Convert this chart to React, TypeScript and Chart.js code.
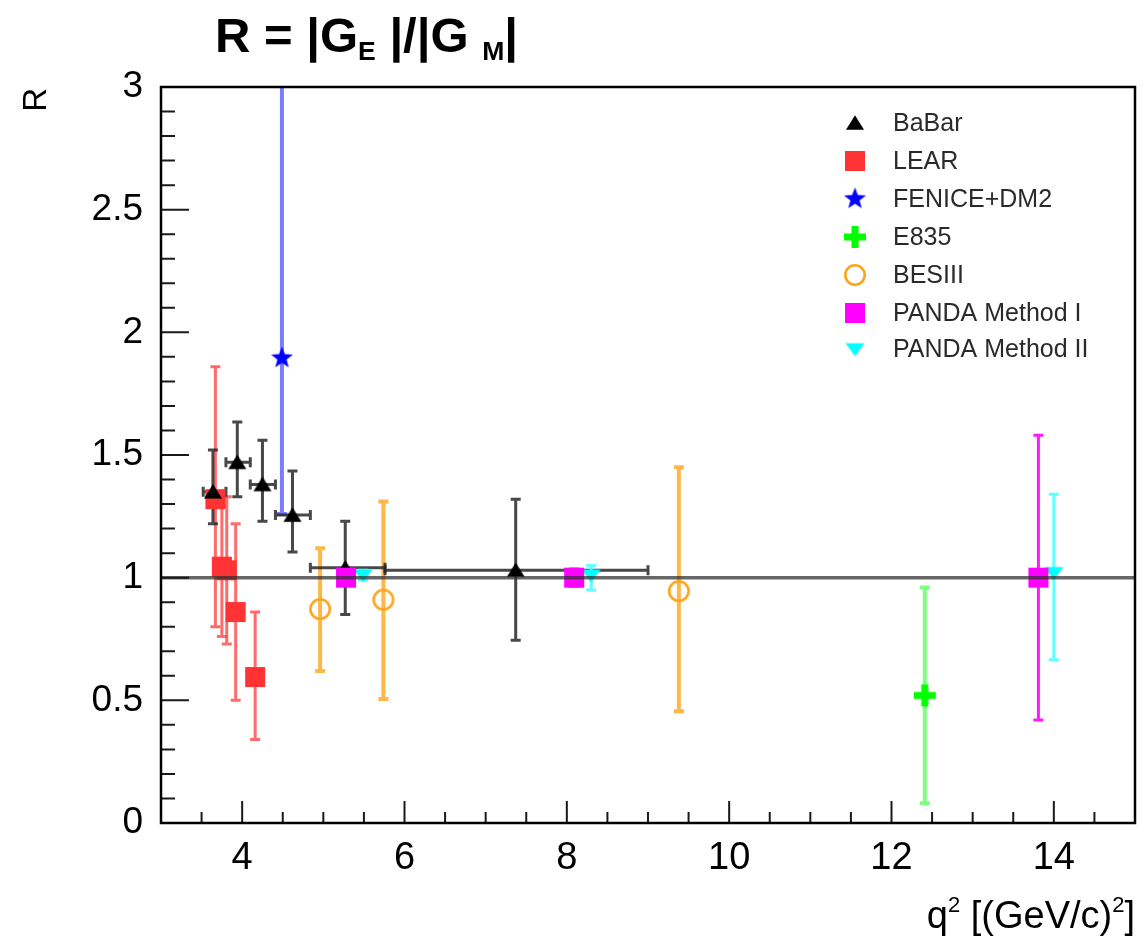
import React, { useEffect, useRef } from 'react';
import { Chart, registerables } from 'chart.js';

Chart.register(...registerables);

// ---------------- data ----------------
const babarQ2 = [3.64, 3.94, 4.25, 4.62, 5.27, 7.37];
const babarR = [1.35, 1.47, 1.38, 1.255, 1.04, 1.03];
const babarRLow = [1.22, 1.33, 1.23, 1.105, 0.85, 0.745];
const babarRHigh = [1.52, 1.635, 1.56, 1.435, 1.23, 1.32];
const babarQ2Low = [3.52, 3.8, 4.1, 4.41, 4.84, 5.76];
const babarQ2High = [3.8, 4.1, 4.41, 4.84, 5.76, 9.0];

const learQ2 = [3.67, 3.75, 3.81, 3.92, 4.16];
const learR = [1.32, 1.045, 1.03, 0.86, 0.595];
const learRLow = [0.8, 0.76, 0.73, 0.5, 0.34];
const learRHigh = [1.86, 1.33, 1.33, 1.22, 0.86];

const feniceQ2 = [4.49];
const feniceR = [1.895];
const feniceRLow = [1.26];
const feniceRHigh = [3.6];

const e835Q2 = [12.41];
const e835R = [0.52];
const e835RLow = [0.08];
const e835RHigh = [0.96];

const besQ2 = [4.96, 5.74, 9.38];
const besR = [0.872, 0.91, 0.945];
const besRLow = [0.62, 0.505, 0.455];
const besRHigh = [1.12, 1.31, 1.45];

const panda1Q2 = [5.28, 8.09, 13.81];
const panda1R = [1.0, 1.0, 1.0];
const panda1RLow = [0.99, 0.965, 0.42];
const panda1RHigh = [1.01, 1.035, 1.58];

const panda2Q2 = [5.49, 8.3, 14.0];
const panda2R = [1.01, 1.01, 1.02];
const panda2RLow = [0.99, 0.95, 0.665];
const panda2RHigh = [1.03, 1.05, 1.34];

const legendLabels = ['BaBar', 'LEAR', 'FENICE+DM2', 'E835', 'BESIII', 'PANDA Method I', 'PANDA Method II'];
const xTickLabels = [4, 6, 8, 10, 12, 14];
const yTickLabels = [0, 0.5, 1, 1.5, 2, 2.5, 3];

// ---------------- markers ----------------
function makeMarker(kind: string, color: string, size: number): HTMLCanvasElement {
  const pad = 3;
  const S = Math.ceil(size + pad * 2);
  const c = document.createElement('canvas');
  c.width = S;
  c.height = S;
  const ctx = c.getContext('2d') as CanvasRenderingContext2D;
  const cx = S / 2;
  const cy = S / 2;
  const h = size / 2;
  ctx.fillStyle = color;
  ctx.strokeStyle = color;
  ctx.beginPath();
  if (kind === 'triUp') {
    ctx.moveTo(cx, cy - h * 0.85);
    ctx.lineTo(cx + h, cy + h * 0.75);
    ctx.lineTo(cx - h, cy + h * 0.75);
    ctx.closePath();
    ctx.fill();
  } else if (kind === 'triDown') {
    ctx.moveTo(cx, cy + h * 0.75);
    ctx.lineTo(cx + h, cy - h * 0.6);
    ctx.lineTo(cx - h, cy - h * 0.6);
    ctx.closePath();
    ctx.fill();
  } else if (kind === 'square') {
    ctx.rect(cx - h, cy - h, size, size);
    ctx.fill();
  } else if (kind === 'star') {
    for (let i = 0; i < 10; i++) {
      const r = i % 2 === 0 ? h : h * 0.42;
      const a = -Math.PI / 2 + (i * Math.PI) / 5;
      const px = cx + r * Math.cos(a);
      const py = cy + r * Math.sin(a);
      if (i === 0) ctx.moveTo(px, py);
      else ctx.lineTo(px, py);
    }
    ctx.closePath();
    ctx.fill();
  } else if (kind === 'plus') {
    const t = size * 0.32;
    ctx.rect(cx - t / 2, cy - h, t, size);
    ctx.rect(cx - h, cy - t / 2, size, t);
    ctx.fill();
  } else if (kind === 'circle') {
    ctx.lineWidth = 2.6;
    ctx.arc(cx, cy, h - 1.3, 0, Math.PI * 2);
    ctx.stroke();
  }
  return c;
}

type Series = {
  label: string;
  q2: number[];
  r: number[];
  rLow: number[];
  rHigh: number[];
  q2Low?: number[];
  q2High?: number[];
  barColor: string;
  barWidth: number;
  order: number;
  marker: { kind: string; color: string; size: number };
};

const series: Series[] = [
  { label: legendLabels[0], q2: babarQ2, r: babarR, rLow: babarRLow, rHigh: babarRHigh, q2Low: babarQ2Low, q2High: babarQ2High, barColor: 'rgba(40,40,40,0.85)', barWidth: 3, order: 2, marker: { kind: 'triUp', color: '#000000', size: 18 } },
  { label: legendLabels[1], q2: learQ2, r: learR, rLow: learRLow, rHigh: learRHigh, barColor: 'rgba(255,70,70,0.8)', barWidth: 3, order: 6, marker: { kind: 'square', color: '#ff3333', size: 20 } },
  { label: legendLabels[2], q2: feniceQ2, r: feniceR, rLow: feniceRLow, rHigh: feniceRHigh, barColor: 'rgba(110,110,255,0.9)', barWidth: 4, order: 5, marker: { kind: 'star', color: '#0000ff', size: 23 } },
  { label: legendLabels[3], q2: e835Q2, r: e835R, rLow: e835RLow, rHigh: e835RHigh, barColor: 'rgba(120,255,120,0.95)', barWidth: 4, order: 4, marker: { kind: 'plus', color: '#00ff00', size: 22 } },
  { label: legendLabels[4], q2: besQ2, r: besR, rLow: besRLow, rHigh: besRHigh, barColor: 'rgba(255,170,40,0.85)', barWidth: 4, order: 3, marker: { kind: 'circle', color: '#ffa31a', size: 22 } },
  { label: legendLabels[5], q2: panda1Q2, r: panda1R, rLow: panda1RLow, rHigh: panda1RHigh, barColor: 'rgba(255,0,255,0.9)', barWidth: 3, order: 0, marker: { kind: 'square', color: '#ff00ff', size: 20 } },
  { label: legendLabels[6], q2: panda2Q2, r: panda2R, rLow: panda2RLow, rHigh: panda2RHigh, barColor: 'rgba(80,255,255,0.9)', barWidth: 3, order: 1, marker: { kind: 'triDown', color: '#00ffff', size: 19 } },
];

const FONT = '"Liberation Sans", Arial, Helvetica, sans-serif';

export default function App() {
  const ref = useRef<HTMLCanvasElement | null>(null);

  useEffect(() => {
    if (!ref.current) return;
    const markers = series.map((s) => makeMarker(s.marker.kind, s.marker.color, s.marker.size));

    const errorPlugin = {
      id: 'errorBars',
      beforeDatasetsDraw(chart: any) {
        const { ctx, chartArea, scales } = chart;
        const xs = scales.x;
        const ys = scales.y;
        ctx.save();
        ctx.beginPath();
        ctx.rect(chartArea.left, chartArea.top, chartArea.right - chartArea.left, chartArea.bottom - chartArea.top);
        ctx.clip();
        const cap = 5;
        const sorted = [...series].sort((a, b) => b.order - a.order);
        for (const s of sorted) {
          ctx.strokeStyle = s.barColor;
          ctx.lineWidth = s.barWidth;
          for (let i = 0; i < s.q2.length; i++) {
            const px = xs.getPixelForValue(s.q2[i]);
            const py = ys.getPixelForValue(s.r[i]);
            const yl = ys.getPixelForValue(s.rLow[i]);
            const yh = ys.getPixelForValue(s.rHigh[i]);
            ctx.beginPath();
            ctx.moveTo(px, yl);
            ctx.lineTo(px, yh);
            ctx.moveTo(px - cap, yl);
            ctx.lineTo(px + cap, yl);
            ctx.moveTo(px - cap, yh);
            ctx.lineTo(px + cap, yh);
            if (s.q2Low && s.q2High) {
              const xl = xs.getPixelForValue(s.q2Low[i]);
              const xh = xs.getPixelForValue(s.q2High[i]);
              ctx.moveTo(xl, py);
              ctx.lineTo(xh, py);
              ctx.moveTo(xl, py - cap);
              ctx.lineTo(xl, py + cap);
              ctx.moveTo(xh, py - cap);
              ctx.lineTo(xh, py + cap);
            }
            ctx.stroke();
          }
        }
        ctx.restore();
      },
      afterDatasetsDraw(chart: any) {
        const { ctx, chartArea, scales } = chart;
        const ys = scales.y;
        const xs = scales.x;
        const { left, right, top, bottom } = chartArea;
        ctx.save();
        const y1 = ys.getPixelForValue(1);
        ctx.strokeStyle = 'rgba(45,45,45,0.72)';
        ctx.lineWidth = 3.5;
        ctx.beginPath();
        ctx.moveTo(left, y1);
        ctx.lineTo(right, y1);
        ctx.stroke();

        ctx.strokeStyle = '#1a1a1a';
        ctx.lineWidth = 2;
        ctx.beginPath();
        for (let k = 6; k <= 30; k++) {
          const v = k / 2;
          const px = xs.getPixelForValue(v);
          const len = v % 2 === 0 ? 22 : 11;
          ctx.moveTo(px, bottom);
          ctx.lineTo(px, bottom - len);
        }
        for (let k = 0; k <= 30; k++) {
          const v = k / 10;
          const py = ys.getPixelForValue(v);
          const len = k % 5 === 0 ? 28 : 14;
          ctx.moveTo(left, py);
          ctx.lineTo(left + len, py);
        }
        ctx.stroke();

        ctx.strokeStyle = '#000';
        ctx.lineWidth = 2.5;
        ctx.strokeRect(left, top, right - left, bottom - top);
        ctx.restore();
      },
      afterDraw(chart: any) {
        const { ctx } = chart;
        ctx.save();
        // legend
        const rows = [123, 161, 199, 237, 275, 313, 349];
        ctx.font = `25px ${FONT}`;
        ctx.fillStyle = '#2a2a2a';
        ctx.textBaseline = 'middle';
        ctx.textAlign = 'left';
        series.forEach((s, i) => {
          const m = markers[i];
          ctx.drawImage(m, 855 - m.width / 2, rows[i] - m.height / 2);
          ctx.fillText(s.label, 893, rows[i] + 1);
        });

        // title
        ctx.fillStyle = '#000';
        ctx.textBaseline = 'alphabetic';
        const big = `bold 48px ${FONT}`;
        const small = `bold 26px ${FONT}`;
        const parts: [string, string, number][] = [
          ['R = |G', big, 0],
          ['E', small, 8],
          [' |/|G ', big, 0],
          ['M', small, 8],
          ['|', big, 0],
        ];
        let tw = 0;
        parts.forEach(([t, f]) => {
          ctx.font = f;
          tw += ctx.measureText(t).width;
        });
        const sx = 303 / tw;
        ctx.save();
        ctx.translate(215, 0);
        ctx.scale(sx, 1);
        let tx = 0;
        parts.forEach(([t, f, dy]) => {
          ctx.font = f;
          ctx.fillText(t, tx, 52 + dy);
          tx += ctx.measureText(t).width;
        });
        ctx.restore();

        // y title
        ctx.save();
        ctx.translate(46, 88);
        ctx.rotate(-Math.PI / 2);
        ctx.font = `33px ${FONT}`;
        ctx.textAlign = 'right';
        ctx.fillText('R', 0, 0);
        ctx.restore();

        // x title
        const xparts: [string, string, number][] = [
          ['q', `38px ${FONT}`, 0],
          ['2', `22px ${FONT}`, -16],
          [' [(GeV/c)', `38px ${FONT}`, 0],
          ['2', `22px ${FONT}`, -16],
          [']', `38px ${FONT}`, 0],
        ];
        let total = 0;
        xparts.forEach(([t, f]) => {
          ctx.font = f;
          total += ctx.measureText(t).width;
        });
        let xx = 1135 - total;
        xparts.forEach(([t, f, dy]) => {
          ctx.font = f;
          ctx.fillText(t, xx, 928 + dy);
          xx += ctx.measureText(t).width;
        });
        ctx.restore();
      },
    };

    const chart = new Chart(ref.current, {
      type: 'scatter',
      data: {
        datasets: series.map((s, i) => ({
          label: s.label,
          data: s.q2.map((q, j) => ({ x: q, y: s.r[j] })),
          pointStyle: markers[i] as any,
          pointRadius: 6,
          pointHoverRadius: 6,
          showLine: false,
          order: s.order,
        })),
      },
      options: {
        responsive: false,
        animation: false,
        events: [],
        layout: { padding: { top: 87, right: 13, bottom: 0, left: 0 } },
        plugins: {
          legend: { display: false },
          title: { display: false },
          tooltip: { enabled: false },
        },
        scales: {
          x: {
            type: 'linear',
            min: 3,
            max: 15,
            grid: { display: false, drawTicks: false },
            border: { display: false },
            afterFit: (s: any) => {
              s.height = 118;
            },
            ticks: {
              stepSize: 1,
              autoSkip: false,
              maxRotation: 0,
              padding: 13,
              color: '#000',
              font: { family: FONT, size: 38 },
              callback: (v: any) => (xTickLabels.includes(Number(v)) ? String(v) : ''),
            },
          },
          y: {
            type: 'linear',
            min: 0,
            max: 3,
            grid: { display: false, drawTicks: false },
            border: { display: false },
            afterFit: (s: any) => {
              s.width = 161;
            },
            ticks: {
              stepSize: 0.5,
              autoSkip: false,
              padding: 18,
              color: '#000',
              font: { family: FONT, size: 37 },
              callback: (v: any) => (yTickLabels.includes(Number(v)) ? String(v) : ''),
            },
          },
        },
      },
      plugins: [errorPlugin],
    });
    return () => chart.destroy();
  }, []);

  return (
    <div style={{ position: 'fixed', left: 0, top: 0, width: 1148, height: 941, background: '#fff' }}>
      <canvas ref={ref} width={1148} height={941} style={{ display: 'block' }} />
    </div>
  );
}
